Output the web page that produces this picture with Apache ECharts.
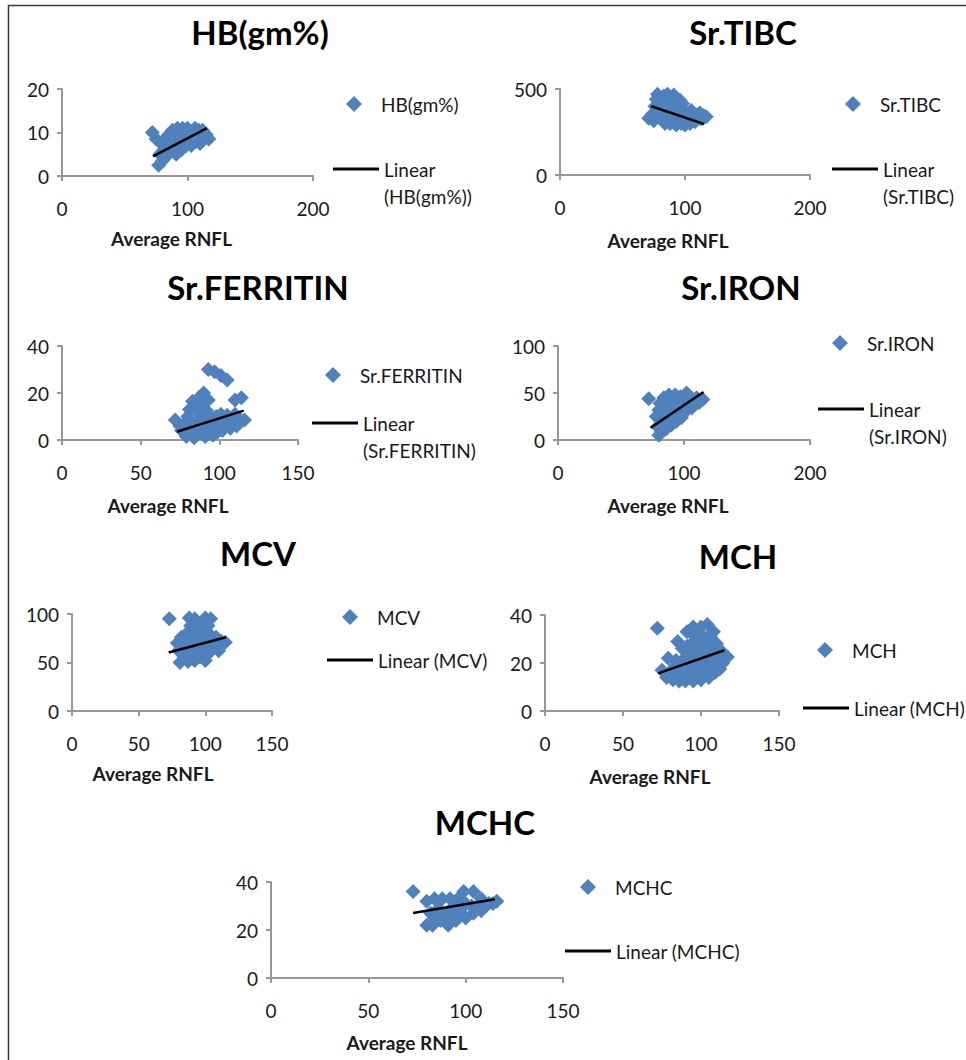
<!DOCTYPE html>
<html><head><meta charset="utf-8">
<script src="https://cdn.jsdelivr.net/npm/echarts@6/dist/echarts.min.js"></script>
<style>html,body{margin:0;padding:0;background:#fff}#c{width:966px;height:1060px}</style>
</head><body><div id="c"></div><script>
// ---------------- data ----------------
const xAxisTitle = 'Average RNFL';

const hbXTicks = [0, 100, 200];
const hbYTicks = [0, 10, 20];
const hbPoints = [[72,10],[75,8.5],[77,2.5],[78,5],[79,7.5],[80,3.5],[81,6],[82,8.5],[83,4.5],[84,7],[85,9.5],[86,5.5],[87,8],[88,10.5],[89,6.5],[90,9],[91,5],[92,11],[93,7.5],[94,9.5],[95,6],[96,11],[97,8.5],[98,10],[99,7],[100,11],[101,8.5],[102,10],[103,7],[105,9.5],[106,11],[107,8],[109,10.5],[110,7.5],[112,10.5],[113,8.5],[115,9.5],[117,8.5]];
const hbTrend = [[72.5,4.5],[115.5,11]];

const tibcXTicks = [0, 100, 200];
const tibcYTicks = [0, 500];
const tibcPoints = [[71,330],[74,355],[75,315],[76,400],[77,440],[78,470],[80,420],[81,380],[82,330],[83,460],[84,300],[85,410],[86,470],[87,350],[88,300],[89,430],[90,390],[91,465],[92,330],[93,290],[94,420],[95,370],[96,435],[97,300],[98,340],[98,415],[100,290],[101,360],[102,320],[103,360],[104,300],[105,375],[107,340],[108,310],[110,350],[112,360],[113,325],[115,345],[117,338]];
const tibcTrend = [[73,400],[115.5,296]];

const ferXTicks = [0, 50, 100, 150];
const ferYTicks = [0, 20, 40];
const ferPoints = [[72,8.5],[75,6],[76,4],[78,7],[79,1.5],[80,10],[81,13],[82,4.5],[83,16.5],[84,1],[85,8],[86,12.5],[87,18],[88,3.5],[89,15],[90,20],[90,9],[91,1.5],[92,12.5],[93,17],[93,5.5],[95,9],[96,2],[97,6],[98,10],[99,3.5],[100,7],[101,11],[102,4],[104,7.5],[105,10.5],[107,5],[108,8],[110,11],[111,6],[113,8.5],[116,8.5],[110,17],[114,18],[93,30],[97,29],[101,27.5],[105,25.5]];
const ferTrend = [[73,3.5],[115.5,12.5]];

const ironXTicks = [0, 100, 200];
const ironYTicks = [0, 50, 100];
const ironPoints = [[72,44],[78,25],[79,14],[80,32],[80,5],[81,39],[82,9],[83,20],[84,45],[85,30],[86,12],[87,38],[88,48],[89,24],[90,16],[91,42],[92,33],[93,48],[94,20],[95,28],[96,40],[97,46],[98,24],[99,35],[100,44],[101,30],[102,50],[103,38],[104,45],[106,34],[107,42],[109,38],[110,45],[112,40],[115,43],[85,18]];
const ironTrend = [[73.5,13],[115.5,51]];

const mcvXTicks = [0, 50, 100, 150];
const mcvYTicks = [0, 50, 100];
const mcvPoints = [[73,95],[88,96],[92,95],[100,96],[104,95],[89,88],[97,89],[102,88],[79,70],[80,62],[81,50],[82,76],[84,56],[85,66],[86,80],[87,51],[88,72],[90,60],[91,83],[92,52],[93,68],[95,76],[96,56],[97,64],[99,82],[100,52],[101,70],[103,60],[104,78],[106,65],[108,76],[110,62],[112,72],[115,71]];
const mcvTrend = [[72.5,60.3],[115.5,76]];

const mchXTicks = [0, 50, 100, 150];
const mchYTicks = [0, 20, 40];
const mchPoints = [[72,34.5],[95,35],[100,35],[104,36],[108,33],[91,33],[85,29],[79,22],[75,17],[78,14],[82,13],[86,12.5],[90,12.5],[95,12.5],[100,13],[105,14],[109,16],[112,17.5],[114,20],[117,22.5],[113,25],[110,28],[106,31],[100,32],[96,31],[88,26],[84,21],[81,17],[86,17],[90,20],[93,24],[94,28],[98,25],[102,28],[103,22],[99,19],[95,17],[91,16],[104,17],[108,21],[107,25],[96,21],[88,21],[97,22],[101,24],[105,26],[99,29],[92,20],[88,16],[94,15],[103,19],[109,24],[111,21],[97,15],[101,16],[106,22],[91,27],[83,17],[110,19]];
const mchTrend = [[72.5,15.7],[115,25.3]];

const mchcXTicks = [0, 50, 100, 150];
const mchcYTicks = [0, 20, 40];
const mchcPoints = [[73,36],[99,36],[104,36],[80,22],[116,32],[80,32],[84,33],[88,33],[92,33],[83,22],[87,24],[91,22],[95,24],[100,25],[104,27],[108,28],[108,33],[112,31],[82,27],[86,29],[90,27],[94,30],[97,28],[100,31],[103,30],[106,30],[110,30],[114,31],[84,25],[96,33],[92,26]];
const mchcTrend = [[73,27.1],[115,32.8]];

// ---------------- layout ----------------
const FONT = 'Lato, "Open Sans", "DejaVu Sans", sans-serif';
const BLUE = '#4f81bd';
const AXIS = '#989898';
const TXT = '#1a1a1a';
const DIAMOND = 'path://M8,0L16,8L8,16L0,8Z';
const LINEICON = 'path://M0,0L40,0L40,2.5L0,2.5Z';

const panels = [
  {name:'HB(gm%)', short:'HB(gm%)', points:hbPoints, trend:hbTrend, xt:hbXTicks, yt:hbYTicks,
   grid:[62,89,313,176], title:[260,32], nameDx:-16, nameGap:62, dia:[354,104], line:[333,169], two:true},
  {name:'Sr.TIBC', short:'Sr.TIBC', points:tibcPoints, trend:tibcTrend, xt:tibcXTicks, yt:tibcYTicks,
   grid:[560,89,810,175], title:[743,32], nameDx:-17, nameGap:65, dia:[853,104], line:[832,169], two:true},
  {name:'Sr.FERRITIN', short:'Sr.FERRITIN', points:ferPoints, trend:ferTrend, xt:ferXTicks, yt:ferYTicks,
   grid:[62,346,298,440], title:[258,287], nameDx:-12, nameGap:65, dia:[333,375], line:[312,423], two:true},
  {name:'Sr.IRON', short:'Sr.IRON', points:ironPoints, trend:ironTrend, xt:ironXTicks, yt:ironYTicks,
   grid:[558,346,810,440], title:[741,287], nameDx:-16, nameGap:65, dia:[840,343], line:[818,409], two:true},
  {name:'MCV', short:'MCV', points:mcvPoints, trend:mcvTrend, xt:mcvXTicks, yt:mcvYTicks,
   grid:[72,614,272,711], title:[258,553], nameDx:-19, nameGap:62, dia:[350,617], line:[327,660], two:false},
  {name:'MCH', short:'MCH', points:mchPoints, trend:mchTrend, xt:mchXTicks, yt:mchYTicks,
   grid:[545,615,779,711], title:[738,556], nameDx:-12, nameGap:65, dia:[825,650], line:[803,708], two:false},
  {name:'MCHC', short:'MCHC', points:mchcPoints, trend:mchcTrend, xt:mchcXTicks, yt:mchcYTicks,
   grid:[271,882,563,978], title:[485,822], nameDx:-10, nameGap:64, dia:[588,887], line:[565,951], two:false}
];

const grids = [], xAxes = [], yAxes = [], series = [], legends = [], graphics = [];
const LH = 27;
const labelStyle = {fontFamily: FONT, fontSize: 19, color: TXT};

graphics.push({type:'rect', shape:{x:8.5, y:5.5, width:1000, height:1100},
  style:{fill:'none', stroke:'#3a3a3a', lineWidth:1.5}, silent:true});

panels.forEach((p, i) => {
  const [l, t, r, b] = p.grid;
  grids.push({left:l, top:t, width:r - l, height:b - t, outerBoundsMode:'none'});
  const axisCommon = {
    type:'value', gridIndex:i, splitLine:{show:false},
    axisLine:{show:true, onZero:false, lineStyle:{color:AXIS, width:2}},
    axisTick:{show:true, inside:false, length:5, lineStyle:{color:AXIS, width:2}}
  };
  xAxes.push(Object.assign({}, axisCommon, {
    min:p.xt[0], max:p.xt[p.xt.length-1], interval:p.xt[1]-p.xt[0],
    axisLabel:Object.assign({margin:23}, labelStyle),
    name:xAxisTitle, nameLocation:'middle', nameGap:p.nameGap,
    nameTextStyle:{fontFamily:FONT, fontSize:19, fontWeight:'bold', color:TXT, verticalAlign:'middle',
      padding:[0, -2*p.nameDx, 0, 0]}
  }));
  yAxes.push(Object.assign({}, axisCommon, {
    min:p.yt[0], max:p.yt[p.yt.length-1], interval:p.yt[1]-p.yt[0],
    axisLabel:Object.assign({margin:13}, labelStyle)
  }));
  const trendName = 'Linear (' + p.short + ')';
  series.push({type:'scatter', name:p.name, xAxisIndex:i, yAxisIndex:i, data:p.points,
    symbol:'diamond', symbolSize:15, itemStyle:{color:BLUE, opacity:1}, silent:true, z:2});
  series.push({type:'line', name:trendName, xAxisIndex:i, yAxisIndex:i, data:p.trend,
    symbol:'none', color:'#000', itemStyle:{color:'#000'}, lineStyle:{color:'#000', width:2.5},
    silent:true, z:3, animation:false});
  legends.push({left:p.dia[0]-8, top:p.dia[1]-LH/2, padding:0, itemWidth:44, itemHeight:16,
    align:'left', orient:'vertical', selectedMode:false, symbolKeepAspect:true,
    itemStyle:{borderWidth:0},
    data:[{name:p.name, icon:DIAMOND}],
    textStyle:Object.assign({lineHeight:LH}, labelStyle)});
  const txt = p.two ? '\u00a0\nLinear\n(' + p.short + ')' : trendName;
  legends.push({left:p.line[0], top:p.line[1] - (p.two ? 1.5*LH : LH/2), padding:0, itemWidth:46, itemHeight:3,
    align:'left', orient:'vertical', selectedMode:false, symbolKeepAspect:true,
    itemStyle:{borderWidth:0},
    data:[{name:trendName, icon:LINEICON}], formatter:() => txt,
    textStyle:Object.assign({lineHeight:LH}, labelStyle)});
  graphics.push({type:'text', x:p.title[0], y:p.title[1], silent:true,
    style:{text:p.name, font:'bold 33px ' + FONT, fill:'#000', align:'center', verticalAlign:'middle'}});
});

const chart = echarts.init(document.getElementById('c'), null, {renderer:'svg'});
chart.setOption({
  animation:false,
  backgroundColor:'#fff',
  grid:grids, xAxis:xAxes, yAxis:yAxes, series:series, legend:legends, graphic:graphics
});
</script></body></html>
